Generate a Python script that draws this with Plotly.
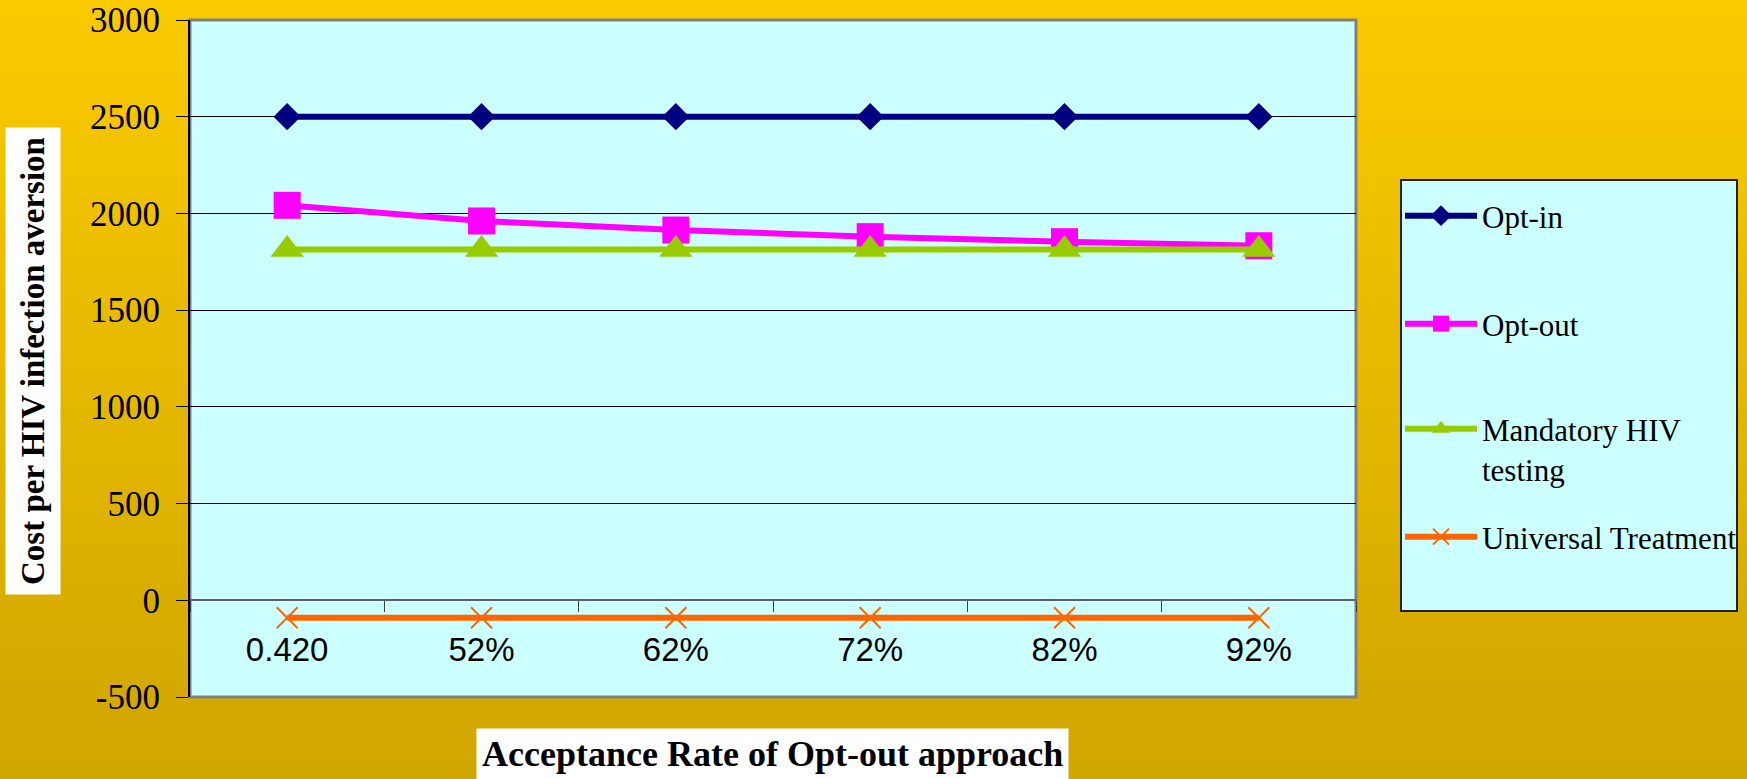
import plotly.graph_objects as go

categories = ["0.420", "52%", "62%", "72%", "82%", "92%"]
opt_in = [2500, 2500, 2500, 2500, 2500, 2500]
opt_out = [2042, 1961, 1914, 1880, 1854, 1833]
mandatory = [1813, 1813, 1813, 1813, 1813, 1813]
universal = [-90, -90, -90, -90, -90, -90]
y_ticks = [-500, 0, 500, 1000, 1500, 2000, 2500, 3000]
series_names = ["Opt-in", "Opt-out", "Mandatory HIV<br>testing", "Universal Treatment"]

W, H = 1747, 779
L, R, T, B = 190, 391, 20, 82
pw, ph = W - L - R, H - T - B

def px_x(p):
    return (p - L) / pw

def px_y(p):
    return (H - B - p) / ph

fig = go.Figure()

colors = ["#000080", "#FF00FF", "#99CC00", "#FF6600"]
markers = [
    dict(symbol="diamond", size=21, color="#000080"),
    dict(symbol="square", size=27, color="#FF00FF"),
    dict(symbol="triangle-up", size=29, color="#99CC00"),
    dict(symbol="x-thin", size=21, color="#FF6600", line=dict(color="#FF6600", width=2)),
]
values = [opt_in, opt_out, mandatory, universal]
legend_ids = ["legend", "legend2", "legend3", "legend4"]
legend_text_y = [217, 325, 430, 538]  # first-line centre, pixels

for name, vals, col, mk, lg in zip(series_names, values, colors, markers, legend_ids):
    fig.add_trace(go.Scatter(
        x=categories, y=vals, name=name, mode="lines+markers",
        line=dict(color=col, width=6), marker=mk, legend=lg,
    ))

# background gradient bands
shapes = []
top = (250, 202, 0)
bot = (208, 166, 0)
n = 40
y_top, y_bot = px_y(0), px_y(H)
for k in range(n):
    t = k / (n - 1)
    c = tuple(int(round(top[j] + (bot[j] - top[j]) * t)) for j in range(3))
    y1 = y_top + (y_bot - y_top) * k / n
    y0 = y_top + (y_bot - y_top) * (k + 1) / n
    shapes.append(dict(type="rect", xref="paper", yref="paper", layer="below",
                       x0=px_x(-5), x1=px_x(W + 5), y0=y0 - 0.002, y1=y1 + 0.002,
                       line=dict(width=0), fillcolor="rgb(%d,%d,%d)" % c))
# plot area
shapes.append(dict(type="rect", xref="paper", yref="paper", layer="below",
                   x0=0, x1=1, y0=0, y1=1, fillcolor="#CCFFFF",
                   line=dict(color="#808080", width=3)))
# legend box
shapes.append(dict(type="rect", xref="paper", yref="paper", layer="below",
                   x0=px_x(1401), x1=px_x(1737), y0=px_y(611), y1=px_y(180),
                   fillcolor="#CCFFFF", line=dict(color="#202020", width=2)))

annotations = [
    dict(text="<b>Cost per HIV infection aversion</b>", xref="paper", yref="paper",
         x=px_x(32.5), y=px_y(361.5), textangle=-90, showarrow=False,
         font=dict(family="Liberation Serif", size=33, color="black"),
         bgcolor="white", borderpad=9, xanchor="center", yanchor="middle"),
    dict(text="<b>Acceptance Rate of Opt-out approach</b>", xref="paper", yref="paper",
         x=px_x(772), y=px_y(728), showarrow=False,
         font=dict(family="Liberation Serif", size=36, color="black"),
         bgcolor="white", borderpad=5, xanchor="center", yanchor="top"),
]

legend_font = dict(family="Liberation Serif", size=31, color="black")
legend_layouts = {}
for lg, ty in zip(legend_ids, legend_text_y):
    legend_layouts[lg] = dict(
        x=px_x(1400), y=px_y(ty - 28), xanchor="left", yanchor="top",
        bgcolor="rgba(0,0,0,0)", borderwidth=0, font=legend_font,
        valign="top", itemwidth=72,
    )

fig.update_layout(
    width=W, height=H,
    margin=dict(l=L, r=R, t=T, b=B, autoexpand=False),
    paper_bgcolor="#E4B800",
    plot_bgcolor="rgba(0,0,0,0)",
    shapes=shapes,
    annotations=annotations,
    showlegend=True,
    xaxis=dict(type="category", anchor="free", position=px_y(20 + 3000 * ph / 3500),
               showline=True, linecolor="#606060", linewidth=2,
               ticks="outside", tickson="boundaries", ticklen=11, tickcolor="#404040",
               tickwidth=1, ticklabelstandoff=20, showgrid=False, zeroline=False,
               tickfont=dict(family="Liberation Sans", size=33, color="black"),
               range=[-0.5, 5.5], fixedrange=True),
    yaxis=dict(range=[-500, 3000], tickvals=y_ticks, ticktext=[str(v) for v in y_ticks],
               showgrid=True, gridcolor="black", gridwidth=1,
               showline=True, linecolor="black", linewidth=2,
               ticks="outside", ticklen=12, tickcolor="black", ticklabelstandoff=9,
               zeroline=False,
               tickfont=dict(family="Liberation Serif", size=35, color="black")),
    **legend_layouts,
)

fig.write_html("out.html", config={"displayModeBar": False},
               post_script="document.body.style.margin='0px';")
